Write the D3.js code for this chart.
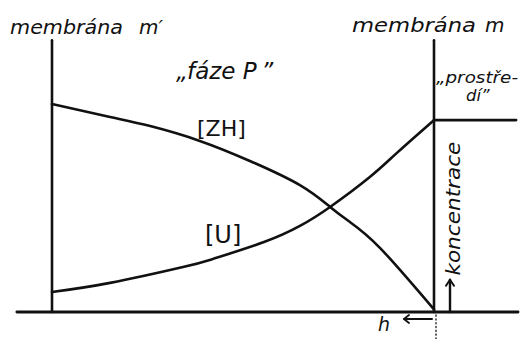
<!DOCTYPE html>
<html>
<head>
<meta charset="utf-8">
<script src="https://cdn.jsdelivr.net/npm/d3@7"></script>
<style>
  html, body { margin: 0; padding: 0; background: #fff; }
  svg { display: block; }
  text { font-family: "DejaVu Sans", sans-serif; fill: #111; }
  .it { font-style: italic; }
</style>
</head>
<body>
<svg id="chart" width="527" height="339"></svg>
<script>
// Position across phase P, from membrane m' (0) to membrane m (100)
const zhPos = [0, 15.2, 25.7, 38.7, 51.8, 64.9, 72.8, 78.0, 85.9, 100];
// Concentration of [ZH] along phase P
const zhConc = [8.0, 7.5, 7.15, 6.58, 5.81, 4.88, 4.04, 3.46, 2.46, 0.1];

const uPos = [0, 15.2, 34.3, 42.1, 55.5, 64.9, 72.8, 83.2, 90.3, 100];
// Concentration of [U] along phase P
const uConc = [0.77, 1.12, 1.73, 2.04, 2.69, 3.31, 4.04, 5.19, 6.12, 7.38];

// Level of U in the surrounding medium ("prostředí") beyond membrane m
const envPos = [100, 121.5];
const envConc = [7.38, 7.38];

const curveLabels = ["[ZH]", "[U]"];

const svg = d3.select("#chart");
const x = d3.scaleLinear().domain([0, 100]).range([52, 434]);
const y = d3.scaleLinear().domain([0, 10]).range([312, 52]);

const ink = "#111";
const g = svg.append("g")
  .attr("stroke", ink).attr("fill", "none")
  .attr("stroke-linecap", "round").attr("stroke-linejoin", "round");

// baseline (position axis)
g.append("line")
  .attr("x1", x(-9.2)).attr("x2", x(122))
  .attr("y1", y(0)).attr("y2", y(0))
  .attr("stroke-width", 2.8);

// membranes m' and m
[0, 100].forEach(p => {
  g.append("line")
    .attr("x1", x(p)).attr("x2", x(p))
    .attr("y1", y(0)).attr("y2", y(10.45))
    .attr("stroke-width", 2.6);
});

// dotted continuation below membrane m
g.append("line")
  .attr("x1", x(100) + 2).attr("x2", x(100) + 2)
  .attr("y1", y(0) + 3).attr("y2", y(-1.1))
  .attr("stroke-width", 1.3)
  .attr("stroke-dasharray", "1.2 2.6");

const line = d3.line()
  .x(d => x(d[0])).y(d => y(d[1]))
  .curve(d3.curveNatural);

g.append("path")
  .datum(d3.zip(zhPos, zhConc))
  .attr("d", line).attr("stroke-width", 2.6);

g.append("path")
  .datum(d3.zip(uPos, uConc))
  .attr("d", line).attr("stroke-width", 2.6);

g.append("path")
  .datum(d3.zip(envPos, envConc))
  .attr("d", d3.line().x(d => x(d[0])).y(d => y(d[1])))
  .attr("stroke-width", 2.6);

// concentration arrow just right of membrane m
const ax = x(100) + 16;
g.append("line")
  .attr("x1", ax).attr("x2", ax)
  .attr("y1", y(0)).attr("y2", y(1.24))
  .attr("stroke-width", 2.4);
g.append("path")
  .attr("d", `M${ax - 4},${y(1.24) + 6} L${ax},${y(1.24)} L${ax + 4},${y(1.24) + 6}`)
  .attr("stroke-width", 2);

// thickness h arrow below the baseline
const hy = y(0) + 7;
g.append("path")
  .attr("d", `M${x(100) - 2},${hy} L${x(100) - 30},${hy}`)
  .attr("stroke-width", 2);
g.append("path")
  .attr("d", `M${x(100) - 25},${hy - 4} L${x(100) - 30},${hy} L${x(100) - 25},${hy + 4}`)
  .attr("stroke-width", 1.8);

// texts
function label(txt, px, py, size, len, italic = true) {
  const t = svg.append("text")
    .attr("x", px).attr("y", py).attr("font-size", size)
    .text(txt);
  if (italic) t.attr("class", "it");
  if (len) t.attr("textLength", len).attr("lengthAdjust", "spacingAndGlyphs");
  return t;
}

label("membrána", 10, 34, 20, 113);
label("m′", 139, 34, 20);
label("membrána", 352, 32, 20, 124);
label("m", 485, 32, 20);

label("„fáze P\u2009\u201D", 176, 79, 23);

label("„prostře-", 436, 83, 16.5, 82);
label("dí\u201D", 466, 101, 16.5);

label(curveLabels[0], 197, 136, 22, null, false);
label(curveLabels[1], 205, 243, 24, null, false);

svg.append("text").attr("class", "it")
  .attr("transform", `translate(${ax + 10},${y(1.4)}) rotate(-90)`)
  .attr("font-size", 19)
  .attr("textLength", 134).attr("lengthAdjust", "spacingAndGlyphs")
  .text("koncentrace");

label("h", 378, 331, 19);
</script>
</body>
</html>
